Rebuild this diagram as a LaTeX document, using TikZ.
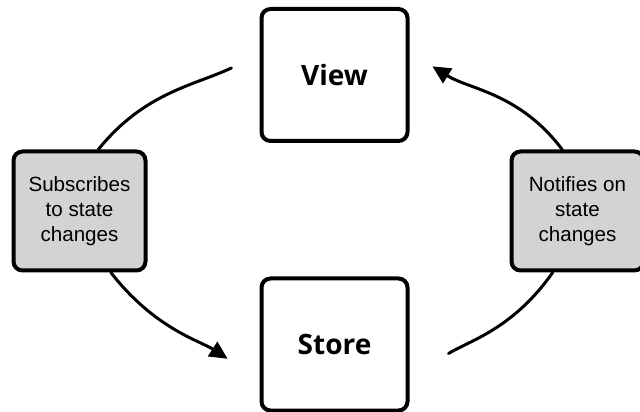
\documentclass[tikz,border=0pt]{standalone}
\usepackage{fontspec}
\setmainfont{Liberation Sans}
\newfontfamily\blockfont{Open Sans}
\usetikzlibrary{arrows.meta,positioning}
\definecolor{notegray}{RGB}{211,211,211}

\begin{document}
\begin{tikzpicture}[x=0.5pt, y=0.5pt, node distance=66.75pt, >={Triangle[length=9pt,width=8.5pt]},
  block/.style={draw, line width=2pt, rounded corners=4.5pt, minimum width=73pt, minimum height=66pt, font=\blockfont\bfseries\fontsize{14}{17}\selectfont},
  note/.style={draw, fill=notegray, line width=2pt, rounded corners=4.5pt, minimum width=66pt, minimum height=59.5pt, align=center, font=\fontsize{10.3}{12.5}\selectfont},
  flow/.style={line width=1.5pt, line cap=round}]
\useasboundingbox (0,0) rectangle (640,411);
\node (view) [block] at (334.5,336) {View};
\node (store) [block, below=of view] {Store};
\node (sub) [note] at (79.5,200) {Subscribes\\to state\\changes};
\node (notify) [note] at (577.5,200) {Notifies on\\state\\changes};
\draw[flow, shorten >=15.5pt] (sub.73) to[out=51, in=205] (view.165);
\draw[flow, ->, shorten >=19pt] (sub.297) to[out=-52, in=147] (store.205);
\draw[flow, shorten <=23pt] (store.336) to[out=32, in=235] (notify.248);
\draw[flow, ->, shorten >=13.5pt] (notify.104) to[out=127, in=328] (view.17);
\end{tikzpicture}
\end{document}
